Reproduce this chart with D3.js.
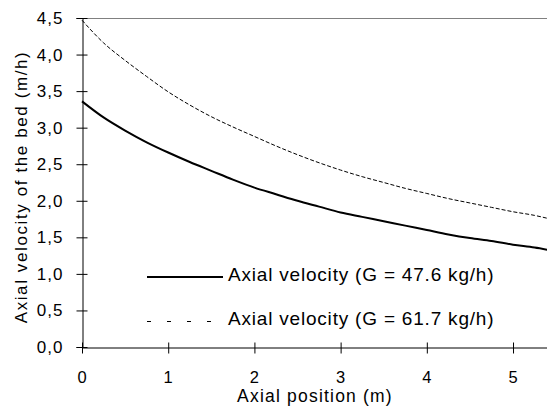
<!DOCTYPE html>
<html>
<head>
<meta charset="utf-8">
<script src="https://cdn.jsdelivr.net/npm/d3@7"></script>
<style>
  body { margin: 0; background: #fff; }
  svg { display: block; font-family: "Liberation Sans", Arial, sans-serif; }
</style>
</head>
<body>
<svg></svg>
<script>
// axial position along the bed (m)
let positions = [0, 0.25, 0.5, 0.75, 1, 1.25, 1.5, 1.75, 2, 2.25, 2.5, 2.75, 3, 3.25, 3.5, 3.75, 4, 4.25, 4.5, 4.75, 5, 5.25, 5.4];
// bed velocity (m/h), G = 47.6 kg/h
let velocityLow = [3.36, 3.14, 2.96, 2.80, 2.66, 2.53, 2.41, 2.29, 2.18, 2.09, 2.00, 1.92, 1.84, 1.78, 1.72, 1.66, 1.60, 1.54, 1.49, 1.45, 1.40, 1.36, 1.33];
// bed velocity (m/h), G = 61.7 kg/h
let velocityHigh = [4.47, 4.16, 3.92, 3.70, 3.49, 3.31, 3.15, 3.01, 2.88, 2.75, 2.63, 2.52, 2.42, 2.33, 2.25, 2.17, 2.10, 2.03, 1.97, 1.91, 1.85, 1.80, 1.76];

let xTicks = [0, 1, 2, 3, 4, 5];
let yTicks = [0, 0.5, 1, 1.5, 2, 2.5, 3, 3.5, 4, 4.5];
let legendLabels = ['Axial velocity (G = 47.6 kg/h)', 'Axial velocity (G = 61.7 kg/h)'];

let width = 547;
let height = 416;
let padLeft = 82, padRight = 547.5, padTop = 18, padBottom = 347;

let svg = d3.select('svg').attr('width', width).attr('height', height);

let xScale = d3.scaleLinear().domain([0, 5.4]).range([padLeft, padRight]);
let yScale = d3.scaleLinear().domain([0, 4.5]).range([padBottom, padTop]);

let commaFmt = (d) => d3.format('.1f')(d).replace('.', ',');

// top border of plot area
svg.append('line')
   .attr('x1', padLeft).attr('x2', width)
   .attr('y1', padTop + 0.5).attr('y2', padTop + 0.5)
   .attr('stroke', '#808080').attr('stroke-width', 1);

// y axis
let yAxis = svg.append('g')
   .attr('transform', 'translate(' + (padLeft + 0.5) + ',0)')
   .call(d3.axisLeft(yScale).tickValues(yTicks).tickFormat(commaFmt).tickSize(6).tickPadding(13));
yAxis.select('.domain').attr('stroke', '#000');
yAxis.selectAll('.tick line').attr('x1', 5).attr('stroke', '#000');
yAxis.selectAll('.tick text')
     .attr('font-size', 17).attr('letter-spacing', 1).attr('fill', '#000')
     .attr('font-family', '"Liberation Sans", Arial, sans-serif');

// x axis
let xAxis = svg.append('g')
   .attr('transform', 'translate(0,' + (padBottom + 0.5) + ')')
   .call(d3.axisBottom(xScale).tickValues(xTicks).tickFormat(d3.format('d')).tickSize(6).tickSizeOuter(0));
xAxis.select('.domain').attr('stroke', '#000');
xAxis.selectAll('.tick line').attr('y1', -5).attr('stroke', '#000');
xAxis.selectAll('.tick text')
     .attr('y', 35).attr('dy', 0)
     .attr('font-size', 16.5).attr('letter-spacing', 1).attr('fill', '#000')
     .attr('font-family', '"Liberation Sans", Arial, sans-serif');

// lines
let line = (vals) => d3.line()
   .x((d, i) => xScale(positions[i]))
   .y((d) => yScale(d))
   .curve(d3.curveMonotoneX)(vals);

svg.append('path')
   .attr('d', line(velocityLow))
   .attr('fill', 'none').attr('stroke', '#000').attr('stroke-width', 2);

svg.append('path')
   .attr('d', line(velocityHigh))
   .attr('fill', 'none').attr('stroke', '#000').attr('stroke-width', 1)
   .attr('stroke-dasharray', '4,2');

// legend
let legend = svg.append('g');
legend.append('line')
   .attr('x1', 147).attr('x2', 223).attr('y1', 277).attr('y2', 277)
   .attr('stroke', '#000').attr('stroke-width', 2);
legend.append('line')
   .attr('x1', 147).attr('x2', 223).attr('y1', 321.5).attr('y2', 321.5)
   .attr('stroke', '#000').attr('stroke-width', 1).attr('stroke-dasharray', '4,16');
legend.selectAll('text')
   .data(legendLabels)
   .enter()
   .append('text')
   .attr('x', 228)
   .attr('y', (d, i) => i === 0 ? 281 : 325)
   .attr('font-size', 19).attr('letter-spacing', 0.8)
   .text((d) => d);

// axis titles
svg.append('text')
   .attr('x', 315).attr('y', 402)
   .attr('text-anchor', 'middle')
   .attr('font-size', 17.5).attr('letter-spacing', 1.2)
   .text('Axial position (m)');

svg.append('text')
   .attr('transform', 'translate(27,187) rotate(-90)')
   .attr('text-anchor', 'middle')
   .attr('font-size', 17).attr('letter-spacing', 1.6)
   .text('Axial velocity of the bed (m/h)');
</script>
</body>
</html>
